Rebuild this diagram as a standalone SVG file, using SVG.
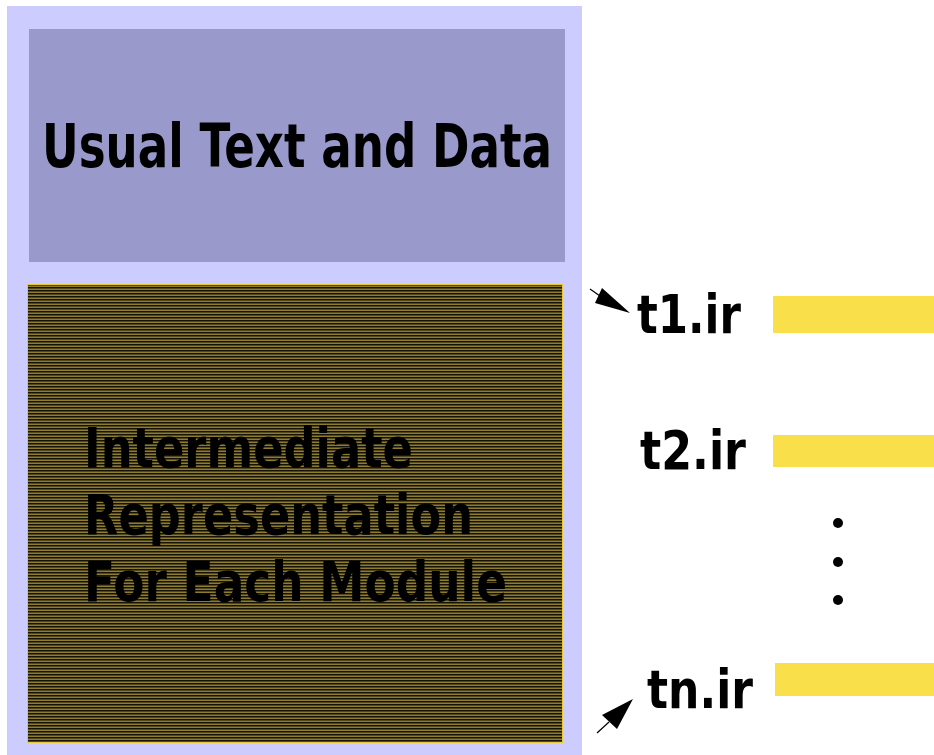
<svg xmlns="http://www.w3.org/2000/svg" width="934" height="755" viewBox="0 0 934 755">
  <style>
    .lbl { font-family: "DejaVu Sans", "Liberation Sans", sans-serif; font-weight: bold; fill: #000; }
    .bar { fill: #f9e04b; }
    .dot { fill: #000; }
  </style>
  <defs>
    <!-- horizontal stripes for the IR section -->
    <pattern id="stripes" x="0" y="284" width="4" height="3" patternUnits="userSpaceOnUse">
      <rect width="4" height="3" fill="#8f7d2e"/>
      <rect width="4" height="1.5" fill="#15130a"/>
    </pattern>
  </defs>
  <rect width="934" height="755" fill="#ffffff"/>

  <g id="image">
    <rect x="7" y="6" width="575" height="755" fill="#ccccff"/>
  </g>

  <g id="text-data">
    <rect x="29" y="29" width="536" height="233" fill="#9999cc"/>
    <text class="lbl" x="42" y="167" font-size="60" textLength="510" lengthAdjust="spacingAndGlyphs">Usual Text and Data</text>
  </g>

  <g id="ir-section">
    <rect x="27.5" y="284.5" width="535" height="458" fill="url(#stripes)" stroke="#e8c838" stroke-width="1"/>
    <text class="lbl" x="84" y="467" font-size="56" textLength="329" lengthAdjust="spacingAndGlyphs">Intermediate</text>
    <text class="lbl" x="84" y="534" font-size="56" textLength="389" lengthAdjust="spacingAndGlyphs">Representation</text>
    <text class="lbl" x="84" y="601" font-size="56" textLength="423" lengthAdjust="spacingAndGlyphs">For Each Module</text>
  </g>

  <g id="t1">
    <text class="lbl" x="637" y="333" font-size="54" textLength="104" lengthAdjust="spacingAndGlyphs">t1.ir</text>
    <rect class="bar" x="773" y="296" width="161" height="37"/>
  </g>

  <g id="t2">
    <text class="lbl" x="640" y="469" font-size="54" textLength="106" lengthAdjust="spacingAndGlyphs">t2.ir</text>
    <rect class="bar" x="773" y="435" width="161" height="32"/>
  </g>

  <g id="ellipsis">
    <circle class="dot" cx="838" cy="523" r="5"/>
    <circle class="dot" cx="838" cy="562" r="5"/>
    <circle class="dot" cx="838" cy="600" r="5"/>
  </g>

  <g id="tn">
    <text class="lbl" x="647" y="708" font-size="54" textLength="106" lengthAdjust="spacingAndGlyphs">tn.ir</text>
    <rect class="bar" x="775" y="663" width="159" height="33"/>
  </g>

  <g id="connectors">
    <line x1="590" y1="289" x2="600" y2="296" stroke="#000" stroke-width="1.2"/>
    <polygon points="630,313 595,303 602,288" fill="#000"/>
    <line x1="597" y1="733" x2="609" y2="722" stroke="#000" stroke-width="1.2"/>
    <polygon points="633,699 602,715 617,729" fill="#000"/>
  </g>
</svg>
